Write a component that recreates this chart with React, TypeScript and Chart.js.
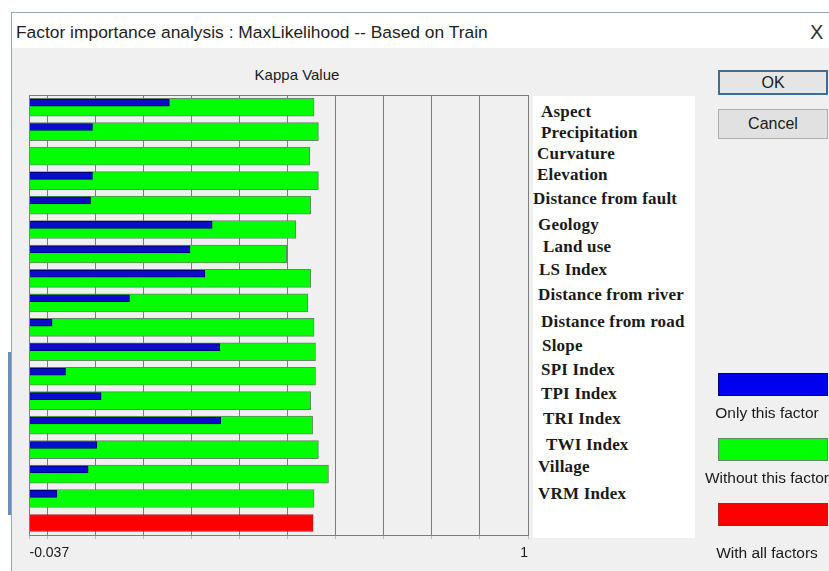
import React, { useEffect, useRef } from "react";
import { Chart, registerables } from "chart.js";

Chart.register(...registerables);

// ---------------- data ----------------
const factors = [
  "Aspect",
  "Precipitation",
  "Curvature",
  "Elevation",
  "Distance from fault",
  "Geology",
  "Land use",
  "LS Index",
  "Distance from river",
  "Distance from road",
  "Slope",
  "SPI Index",
  "TPI Index",
  "TRI Index",
  "TWI Index",
  "Village",
  "VRM Index",
];
const onlyThisFactor = [
  0.254, 0.094, -0.037, 0.094, 0.09, 0.343, 0.297, 0.328, 0.171, 0.01, 0.359,
  0.038, 0.112, 0.361, 0.103, 0.085, 0.02,
];
const withoutThisFactor = [
  0.555, 0.564, 0.546, 0.564, 0.548, 0.517, 0.498, 0.548, 0.542, 0.555, 0.558,
  0.558, 0.548, 0.552, 0.564, 0.585, 0.555,
];
const withAllFactors = [0.553];
const kappaMin = -0.037;
const kappaMax = 1;
const kappaStep = 0.1;
const tickLabels = ["-0.037", "1"];
const seriesNames = ["Only this factor", "Without this factor", "With all factors"];
const dialogTitle = "Factor importance analysis : MaxLikelihood -- Based on Train";
const chartTitle = "Kappa Value";
const buttonLabels = ["OK", "Cancel"];

// ---------------- styles / layout ----------------
const FILL = ["#0b0bcc", "#00ff00", "#ff0000"];
const LEGEND_FILL = ["#0000ee", "#00ff00", "#ff0000"];
const EDGE = ["#00006e", "#5f8a5f", "#b02020"];
const listPos: [number, number][] = [
  [541, 112], [541, 133], [537, 154], [537, 175], [533, 199], [538, 225],
  [543, 247], [539, 270], [538, 295], [541, 322], [542, 346], [541, 370],
  [541, 394], [543, 419], [546, 445], [538, 467], [538, 494],
];
const legendBoxTop = [373, 438, 503];
const legendTextY = [413, 478, 553];
const SANS = "'Liberation Sans', Arial, sans-serif";
const SERIF = "'Liberation Serif', 'Times New Roman', serif";

function ChartCanvas() {
  const ref = useRef<HTMLCanvasElement>(null);
  useEffect(() => {
    const canvas = ref.current;
    if (!canvas) return;
    const n = factors.length;
    const blueLift = 0.19;
    const chart = new Chart(canvas, {
      type: "bar",
      data: {
        datasets: [
          {
            label: seriesNames[0],
            data: onlyThisFactor.map((v, i) => ({ x: v, y: i - blueLift })),
            backgroundColor: FILL[0],
            borderColor: EDGE[0],
            borderWidth: 1,
            barThickness: 7,
            base: kappaMin,
            grouped: false,
            order: 0,
          } as any,
          {
            label: seriesNames[1],
            data: withoutThisFactor.map((v, i) => ({ x: v, y: i })),
            backgroundColor: FILL[1],
            borderColor: EDGE[1],
            borderWidth: 1,
            barThickness: 18,
            base: kappaMin,
            grouped: false,
            order: 1,
          } as any,
          {
            label: seriesNames[2],
            data: withAllFactors.map((v, i) => ({ x: v, y: n + i })),
            backgroundColor: FILL[2],
            borderColor: EDGE[2],
            borderWidth: 1,
            barThickness: 17,
            base: kappaMin,
            grouped: false,
            order: 1,
          } as any,
        ],
      },
      options: {
        indexAxis: "y",
        animation: false,
        responsive: false,
        maintainAspectRatio: false,
        devicePixelRatio: 1,
        events: [],
        layout: { padding: { left: 9.5, right: 12, top: 7, bottom: 4 } },
        plugins: {
          legend: { display: false },
          tooltip: { enabled: false },
          title: { display: false },
        },
        scales: {
          x: {
            type: "linear",
            min: kappaMin,
            max: kappaMax,
            stacked: false,
            offset: false,
            afterBuildTicks: (s: any) => {
              const t = [{ value: kappaMin }];
              for (let k = 0; k * kappaStep <= kappaMax + 1e-9; k++) {
                t.push({ value: Math.round(k * kappaStep * 1000) / 1000 });
              }
              s.ticks = t;
            },
            ticks: {
              autoSkip: false,
              maxRotation: 0,
              minRotation: 0,
              align: "inner",
              padding: 6,
              color: "#1a1a1a",
              font: { family: SANS, size: 14 },
              callback: (v: any) =>
                v === kappaMin ? tickLabels[0] : v === kappaMax ? tickLabels[1] : "",
            },
            grid: {
              color: "#7d7d7d",
              lineWidth: 1,
              drawTicks: true,
              tickLength: 4,
              tickColor: "#bdbdbd",
              offset: false,
            },
            border: { display: true, color: "#7d7d7d" },
          },
          y: {
            type: "linear",
            min: -0.5,
            max: n + 0.5,
            reverse: true,
            stacked: false,
            offset: false,
            afterBuildTicks: (s: any) => {
              s.ticks = [{ value: -0.5 }, { value: n + 0.5 }];
            },
            ticks: { display: false },
            grid: { color: "#7d7d7d", drawTicks: false, offset: false },
            border: { display: false },
          },
        },
      } as any,
    });
    return () => chart.destroy();
  }, []);
  return (
    <canvas
      ref={ref}
      width={520}
      height={484}
      style={{ position: "absolute", left: 20, top: 88, width: 520, height: 484 }}
    />
  );
}

export default function App() {
  const abs = (o: React.CSSProperties): React.CSSProperties => ({ position: "absolute", ...o });
  return (
    <div
      style={{
        position: "fixed",
        left: 0,
        top: 0,
        width: 829,
        height: 571,
        background: "#ffffff",
        overflow: "hidden",
        fontFamily: SANS,
        color: "#1a1a1a",
      }}
    >
      {/* window frame */}
      <div style={abs({ left: 8, top: 352, width: 3, height: 163, background: "#6d8fb5" })} />
      <div
        style={abs({
          left: 11,
          top: 12,
          right: 0,
          bottom: 0,
          background: "#f0f0f0",
          borderLeft: "1px solid #8fa7bf",
          borderTop: "1px solid #8fa7bf",
        })}
      />
      {/* title bar */}
      <div style={abs({ left: 12, top: 13, right: 0, height: 35, background: "#ffffff" })} />
      <div
        style={abs({
          left: 16,
          top: 21,
          lineHeight: "22px",
          fontSize: 17.4,
          whiteSpace: "nowrap",
          color: "#1e1e1e",
        })}
      >
        {dialogTitle}
      </div>
      <div style={abs({ left: 810, top: 20, lineHeight: "24px", fontSize: 20, color: "#333" })}>X</div>

      {/* chart title */}
      <div
        style={abs({
          left: 197,
          width: 200,
          top: 65,
          lineHeight: "20px",
          fontSize: 15,
          textAlign: "center",
        })}
      >
        {chartTitle}
      </div>

      <ChartCanvas />

      {/* factor list */}
      <div style={abs({ left: 533, top: 96, width: 162, height: 442, background: "#ffffff" })} />
      {factors.map((f, i) => (
        <div
          key={f}
          style={abs({
            left: listPos[i][0],
            top: listPos[i][1] - 10,
            lineHeight: "20px",
            fontFamily: SERIF,
            fontWeight: 700,
            fontSize: 17,
            letterSpacing: "0.2px",
            whiteSpace: "nowrap",
            color: "#1a1a1a",
          })}
        >
          {f}
        </div>
      ))}

      {/* buttons */}
      <div
        style={abs({
          left: 718,
          top: 70,
          width: 106,
          height: 21,
          border: "2px solid #3c6f96",
          background: "#e5e5e5",
          textAlign: "center",
          lineHeight: "21px",
          fontSize: 16,
        })}
      >
        {buttonLabels[0]}
      </div>
      <div
        style={abs({
          left: 718,
          top: 109,
          width: 108,
          height: 28,
          border: "1px solid #adadad",
          background: "#e1e1e1",
          textAlign: "center",
          lineHeight: "28px",
          fontSize: 16,
        })}
      >
        {buttonLabels[1]}
      </div>

      {/* legend */}
      {seriesNames.map((s, i) => (
        <React.Fragment key={s}>
          <div
            style={abs({
              left: 718,
              top: legendBoxTop[i],
              width: 108,
              height: 21,
              background: LEGEND_FILL[i],
              border: `1px solid ${EDGE[i]}`,
            })}
          />
          <div
            style={abs({
              left: 692,
              width: 150,
              top: legendTextY[i] - 10,
              lineHeight: "20px",
              fontSize: 15.5,
              textAlign: "center",
              whiteSpace: "nowrap",
            })}
          >
            {s}
          </div>
        </React.Fragment>
      ))}
    </div>
  );
}
